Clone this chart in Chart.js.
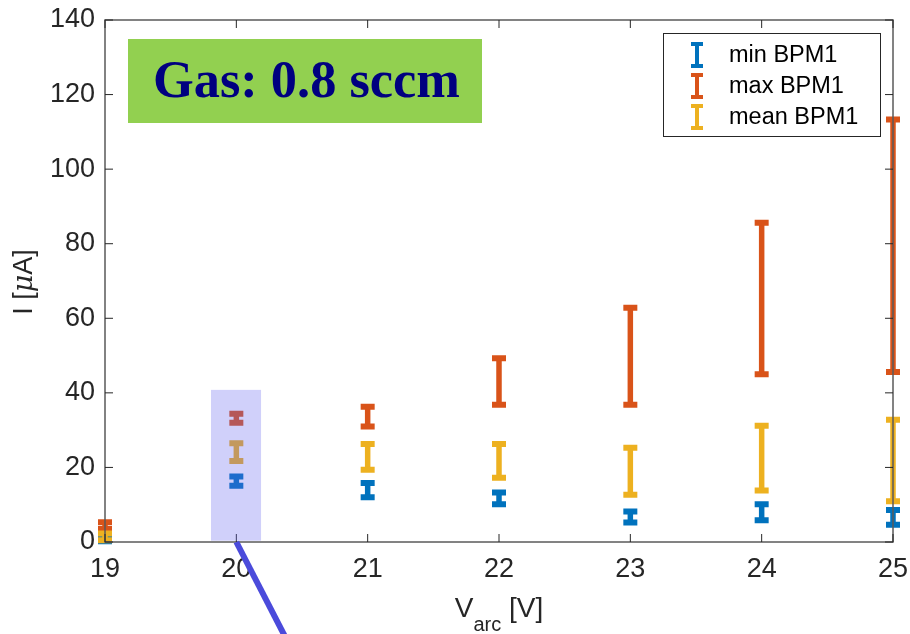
<!DOCTYPE html>
<html lang="en">
<head>
    <meta charset="UTF-8">
    <title>BPM1 current vs arc voltage</title>
    <script src="https://cdn.jsdelivr.net/npm/chart.js"></script>
    <style>
        body { margin: 0; background: #ffffff; }
        .chart-box { width: 910px; height: 634px; }
    </style>
</head>
<body>

    <div class="chart-box">
        <canvas id="bpmChart"></canvas>
    </div>

    <script>
        // Arc voltage positions (V)
        const arcVoltages = [19, 20, 21, 22, 23, 24, 25];

        // Error bar ranges (uA)
        const minLow   = [0.2, 15.1, 12.0, 10.1, 5.2, 5.8, 4.6];
        const minHigh  = [0.8, 17.6, 15.8, 13.3, 8.2, 10.1, 8.6];
        const maxLow   = [3.5, 32.0, 31.0, 36.8, 36.8, 45.0, 45.6];
        const maxHigh  = [5.3, 34.4, 36.3, 49.3, 62.8, 85.6, 113.3];
        const meanLow  = [0.5, 21.7, 19.4, 17.2, 12.7, 13.8, 10.9];
        const meanHigh = [2.3, 26.5, 26.3, 26.3, 25.3, 31.2, 32.8];

        const seriesLabels = ['min BPM1', 'max BPM1', 'mean BPM1'];
        const seriesColors = ['#0072BD', '#D95319', '#EDB120'];

        const yTicks = [0, 20, 40, 60, 80, 100, 120, 140];

        const boxText = 'Gas: 0.8 sccm';

        const sansFont = 'Helvetica, "Liberation Sans", Arial, sans-serif';
        const axisColor = '#262626';

        function makeDataset(label, color, lows, highs) {
            return {
                label: label,
                data: arcVoltages.map((v, i) => ({ x: v, y: (lows[i] + highs[i]) / 2 })),
                lows: lows,
                highs: highs,
                errColor: color,
                pointRadius: 0,
                showLine: false
            };
        }

        // Draw vertical error bars with caps through the chart scales
        const errorBarPlugin = {
            id: 'errorBars',
            afterDatasetsDraw(chart) {
                const ctx = chart.ctx;
                const xs = chart.scales.x;
                const ys = chart.scales.y;
                ctx.save();
                chart.data.datasets.forEach(ds => {
                    ctx.strokeStyle = ds.errColor;
                    ds.data.forEach((p, i) => {
                        const px = xs.getPixelForValue(p.x);
                        const top = ys.getPixelForValue(ds.highs[i]);
                        const bot = ys.getPixelForValue(ds.lows[i]);
                        ctx.lineCap = 'butt';
                        ctx.lineWidth = 5.5;
                        ctx.beginPath();
                        ctx.moveTo(px, top);
                        ctx.lineTo(px, bot);
                        ctx.stroke();
                        ctx.lineWidth = 6;
                        ctx.beginPath();
                        ctx.moveTo(px - 7, top);
                        ctx.lineTo(px + 7, top);
                        ctx.moveTo(px - 7, bot);
                        ctx.lineTo(px + 7, bot);
                        ctx.stroke();
                    });
                });
                ctx.restore();
            }
        };

        // MATLAB-like box with inward ticks, axis titles, legend and annotations
        const decorPlugin = {
            id: 'decor',
            afterDraw(chart) {
                const ctx = chart.ctx;
                const area = chart.chartArea;
                const xs = chart.scales.x;
                const ys = chart.scales.y;
                ctx.save();

                // axes box
                ctx.strokeStyle = '#5a5a5a';
                ctx.lineWidth = 1.5;
                ctx.strokeRect(area.left, area.top, area.right - area.left, area.bottom - area.top);

                // inward ticks
                ctx.lineWidth = 1;
                ctx.strokeStyle = axisColor;
                ctx.beginPath();
                xs.ticks.forEach(t => {
                    const px = xs.getPixelForValue(t.value);
                    ctx.moveTo(px, area.bottom);
                    ctx.lineTo(px, area.bottom - 8);
                    ctx.moveTo(px, area.top);
                    ctx.lineTo(px, area.top + 8);
                });
                ys.ticks.forEach(t => {
                    const py = ys.getPixelForValue(t.value);
                    ctx.moveTo(area.left, py);
                    ctx.lineTo(area.left + 8, py);
                    ctx.moveTo(area.right, py);
                    ctx.lineTo(area.right - 8, py);
                });
                ctx.stroke();

                // highlight around 20 V
                const hx1 = xs.getPixelForValue(19.807);
                const hx2 = xs.getPixelForValue(20.188);
                const hy1 = ys.getPixelForValue(40.8);
                const hy2 = ys.getPixelForValue(0.35);
                ctx.fillStyle = 'rgba(100, 100, 240, 0.3)';
                ctx.fillRect(hx1, hy1, hx2 - hx1, hy2 - hy1);

                // pointer line
                ctx.strokeStyle = '#4b4bdb';
                ctx.lineWidth = 6;
                ctx.lineCap = 'butt';
                ctx.beginPath();
                ctx.moveTo(xs.getPixelForValue(20), ys.getPixelForValue(0));
                ctx.lineTo(xs.getPixelForValue(20.38), ys.getPixelForValue(-26));
                ctx.stroke();

                // green text box
                const gx = area.left + 23, gy = area.top + 19, gw = 354, gh = 84;
                ctx.fillStyle = '#92D050';
                ctx.fillRect(gx, gy, gw, gh);
                let fs = 48;
                ctx.font = 'bold ' + fs + 'px "Liberation Serif", "Times New Roman", serif';
                fs = fs * 307 / ctx.measureText(boxText).width;
                ctx.font = 'bold ' + fs + 'px "Liberation Serif", "Times New Roman", serif';
                ctx.fillStyle = '#000080';
                ctx.textAlign = 'left';
                ctx.textBaseline = 'alphabetic';
                ctx.fillText(boxText, gx + 25, gy + 58);

                // legend
                const lx = 663, ly = 33, lw = 217, lh = 103;
                ctx.fillStyle = '#ffffff';
                ctx.fillRect(lx, ly, lw, lh);
                ctx.strokeStyle = axisColor;
                ctx.lineWidth = 1;
                ctx.strokeRect(lx + 0.5, ly + 0.5, lw, lh);
                ctx.font = '23.5px ' + sansFont;
                ctx.textBaseline = 'middle';
                chart.data.datasets.forEach((ds, i) => {
                    const cy = ly + 22 + i * 31;
                    const ix = lx + 34;
                    ctx.strokeStyle = ds.errColor;
                    ctx.lineWidth = 4;
                    ctx.beginPath();
                    ctx.moveTo(ix, cy - 12);
                    ctx.lineTo(ix, cy + 12);
                    ctx.moveTo(ix - 6, cy - 11);
                    ctx.lineTo(ix + 6, cy - 11);
                    ctx.moveTo(ix - 6, cy + 11);
                    ctx.lineTo(ix + 6, cy + 11);
                    ctx.stroke();
                    ctx.fillStyle = '#000000';
                    ctx.fillText(ds.label, lx + 66, cy + 1);
                });

                // x axis title: V_arc [V]
                ctx.fillStyle = axisColor;
                ctx.textBaseline = 'alphabetic';
                const bigFont = '28px ' + sansFont;
                const subFont = '20px ' + sansFont;
                ctx.font = bigFont;
                const wV = ctx.measureText('V').width;
                const wU = ctx.measureText(' [V]').width;
                ctx.font = subFont;
                const wS = ctx.measureText('arc').width;
                let tx = (area.left + area.right) / 2 - (wV + wS + wU) / 2;
                const base = 617;
                ctx.font = bigFont;
                ctx.fillText('V', tx, base);
                ctx.font = subFont;
                ctx.fillText('arc', tx + wV, base + 14);
                ctx.font = bigFont;
                ctx.fillText(' [V]', tx + wV + wS, base);

                // y axis title: I [μA]
                ctx.save();
                ctx.translate(32, (area.top + area.bottom) / 2 + 1);
                ctx.rotate(-Math.PI / 2);
                const yFont = '27px ' + sansFont;
                const muFont = 'italic 27px "DejaVu Serif", "Liberation Serif", serif';
                ctx.font = yFont;
                const w1 = ctx.measureText('I [').width;
                const w3 = ctx.measureText('A]').width;
                ctx.font = muFont;
                const w2 = ctx.measureText('\u03bc').width;
                let sx = -(w1 + w2 + w3) / 2;
                ctx.font = yFont;
                ctx.fillText('I [', sx, 0);
                ctx.font = muFont;
                ctx.fillText('\u03bc', sx + w1, 0);
                ctx.font = yFont;
                ctx.fillText('A]', sx + w1 + w2, 0);
                ctx.restore();

                ctx.restore();
            }
        };

        new Chart(document.getElementById('bpmChart'), {
            type: 'scatter',
            data: {
                datasets: [
                    makeDataset(seriesLabels[0], seriesColors[0], minLow, minHigh),
                    makeDataset(seriesLabels[1], seriesColors[1], maxLow, maxHigh),
                    makeDataset(seriesLabels[2], seriesColors[2], meanLow, meanHigh)
                ]
            },
            options: {
                responsive: true,
                maintainAspectRatio: false,
                animation: false,
                layout: { padding: { top: 20, right: 17, left: 0, bottom: 0 } },
                plugins: {
                    legend: { display: false },
                    tooltip: { enabled: false }
                },
                scales: {
                    x: {
                        type: 'linear',
                        min: 19,
                        max: 25,
                        grid: { display: false, drawTicks: false },
                        border: { display: false },
                        ticks: {
                            stepSize: 1,
                            padding: 11,
                            color: axisColor,
                            font: { size: 27, family: sansFont }
                        },
                        afterFit: scale => {
                            scale.height = 92;
                            scale.paddingLeft = 0;
                            scale.paddingRight = 0;
                        }
                    },
                    y: {
                        min: 0,
                        max: 140,
                        grid: { display: false, drawTicks: false },
                        border: { display: false },
                        afterBuildTicks: scale => {
                            scale.ticks = yTicks.map(v => ({ value: v }));
                        },
                        ticks: {
                            padding: 10,
                            color: axisColor,
                            font: { size: 27, family: sansFont }
                        },
                        afterFit: scale => {
                            scale.width = 105;
                            scale.paddingTop = 0;
                            scale.paddingBottom = 0;
                        }
                    }
                }
            },
            plugins: [errorBarPlugin, decorPlugin]
        });
    </script>

</body>
</html>
